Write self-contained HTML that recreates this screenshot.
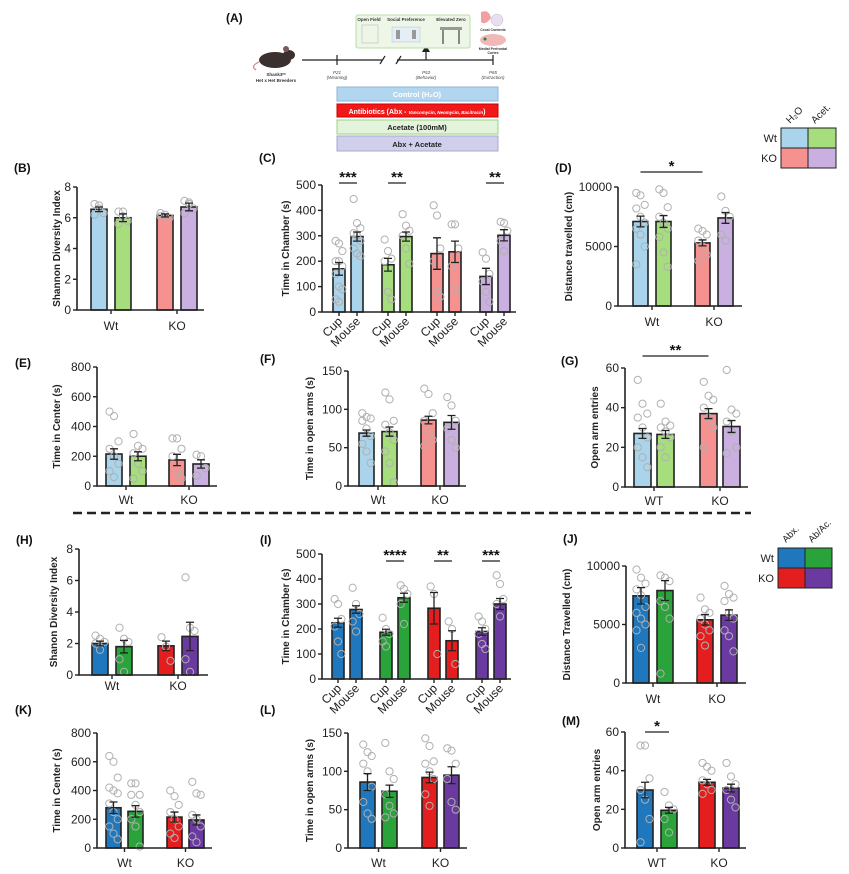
<!DOCTYPE html>
<html><head><meta charset="utf-8">
<style>
html,body{margin:0;padding:0;background:#fff;}
svg{display:block;font-family:"Liberation Sans",Arial,sans-serif;}
.tick{font-size:12px;fill:#222;}
.ytitle{font-size:10px;font-weight:bold;fill:#222;}
.plab{font-size:12px;font-weight:bold;fill:#111;}
.cat{font-size:12px;fill:#222;}
</style></head>
<body>
<svg id="fig" width="849" height="874" viewBox="0 0 849 874" xmlns="http://www.w3.org/2000/svg">
  <g>
    <text class="plab" x="226" y="22">(A)</text>
    <g>
      <ellipse cx="275" cy="60" rx="16" ry="8" fill="#3a3030"/>
      <ellipse cx="289" cy="55" rx="6" ry="5" fill="#3a3030"/>
      <circle cx="286" cy="49" r="3" fill="#7a5a5a"/>
      <path d="M259 62 Q250 66 256 70" stroke="#c88" fill="none" stroke-width="1.2"/>
    </g>
    <text x="276" y="76" font-size="4.5" text-anchor="middle" font-weight="bold" fill="#333">Shank3ᵉˣ</text>
    <text x="276" y="82" font-size="4.5" text-anchor="middle" font-weight="bold" fill="#333">Het x Het Breeders</text>
    <g stroke="#222" stroke-width="1.2">
      <line x1="302" y1="60" x2="382" y2="60"/>
      <line x1="397" y1="60" x2="493" y2="60"/>
      <line x1="337" y1="55" x2="337" y2="65"/>
      <line x1="493" y1="55" x2="493" y2="65"/>
      <line x1="380" y1="64" x2="385" y2="56"/>
      <line x1="396" y1="64" x2="401" y2="56"/>
      <line x1="426" y1="60" x2="426" y2="50"/>
    </g>
    <polygon points="422,52 430,52 426,45" fill="#222"/>
    <text x="337" y="74" font-size="4.5" text-anchor="middle" font-style="italic" fill="#444">P21</text>
    <text x="337" y="79" font-size="4.5" text-anchor="middle" font-style="italic" fill="#444">(Weaning)</text>
    <text x="426" y="74" font-size="4.5" text-anchor="middle" font-style="italic" fill="#444">P53</text>
    <text x="426" y="79" font-size="4.5" text-anchor="middle" font-style="italic" fill="#444">(Behavior)</text>
    <text x="493" y="74" font-size="4.5" text-anchor="middle" font-style="italic" fill="#444">P65</text>
    <text x="493" y="79" font-size="4.5" text-anchor="middle" font-style="italic" fill="#444">(Extraction)</text>
    <rect x="356" y="15" width="114" height="33" rx="2" fill="#eef6e8" stroke="#b8dca8"/>
    <text x="369" y="21" font-size="4.5" font-weight="bold" text-anchor="middle" fill="#333">Open Field</text>
    <text x="406" y="21" font-size="4.5" font-weight="bold" text-anchor="middle" fill="#333">Social Preference</text>
    <text x="451" y="21" font-size="4.5" font-weight="bold" text-anchor="middle" fill="#333">Elevated Zero</text>
    <rect x="362" y="25" width="16" height="18" fill="none" stroke="#bbb" stroke-width="0.6"/>
    <rect x="392" y="27" width="28" height="15" fill="#e4eef4" stroke="#bcd" stroke-width="0.6"/>
    <rect x="396" y="30" width="4" height="9" fill="#999"/><rect x="412" y="30" width="4" height="9" fill="#999"/>
    <rect x="440" y="27" width="22" height="3" fill="#999"/>
    <rect x="442" y="30" width="2" height="14" fill="#888"/><rect x="458" y="30" width="2" height="14" fill="#888"/>
    <path d="M481 12 q8 -3 10 6 q-6 8 -10 4 z" fill="#f0a0a0"/>
    <circle cx="497" cy="20" r="6" fill="#e8e0f0" stroke="#bbb" stroke-width="0.5"/>
    <text x="493" y="31" font-size="3.5" text-anchor="middle" font-weight="bold" fill="#333">Cecal Contents</text>
    <ellipse cx="493" cy="40" rx="13" ry="6" fill="#f2b8b8"/>
    <circle cx="485" cy="39" r="1.5" fill="#1a8a2a"/>
    <text x="493" y="50" font-size="3.5" text-anchor="middle" font-weight="bold" fill="#333">Medial Prefrontal</text>
    <text x="493" y="54" font-size="3.5" text-anchor="middle" font-weight="bold" fill="#333">Cortex</text>
    <rect x="337" y="87" width="161" height="14" fill="#b3d6f0" stroke="#8fb6d6"/>
    <text x="417" y="97" font-size="7.5" text-anchor="middle" fill="#fff" font-weight="bold">Control (H₂O)</text>
    <rect x="337" y="104" width="161" height="13" fill="#f01818" stroke="#c00"/>
    <text x="417" y="114" font-size="7" text-anchor="middle" fill="#fff" font-weight="bold">Antibiotics (Abx - <tspan font-size="4.5" font-style="italic">Vancomycin, Neomycin, Bacitracin</tspan>)</text>
    <rect x="337" y="120" width="161" height="14" fill="#e4f3dc" stroke="#9ccf88"/>
    <text x="417" y="130" font-size="7.5" text-anchor="middle" fill="#222" font-weight="bold">Acetate (100mM)</text>
    <rect x="337" y="136" width="161" height="15" fill="#d0d0ec" stroke="#a8a8cc"/>
    <text x="417" y="147" font-size="7.5" text-anchor="middle" fill="#222" font-weight="bold">Abx + Acetate</text>
  </g>

  <g>
    <rect x="781" y="128" width="27" height="20" fill="#a9d4ec" stroke="#222"/>
    <rect x="808" y="128" width="28" height="20" fill="#a6de7e" stroke="#222"/>
    <rect x="781" y="148" width="27" height="20" fill="#f59290" stroke="#222"/>
    <rect x="808" y="148" width="28" height="20" fill="#c9b0e0" stroke="#222"/>
    <text x="777" y="142" font-size="11" text-anchor="end" fill="#222">Wt</text>
    <text x="777" y="162" font-size="11" text-anchor="end" fill="#222">KO</text>
    <text transform="translate(790,124) rotate(-45)" font-size="10" fill="#222">H₂O</text>
    <text transform="translate(815,124) rotate(-45)" font-size="10" fill="#222">Acet.</text>
  </g>
  <g>
    <rect x="778" y="548" width="27" height="20" fill="#1f78be" stroke="#222"/>
    <rect x="805" y="548" width="27" height="20" fill="#2aa33a" stroke="#222"/>
    <rect x="778" y="568" width="27" height="20" fill="#e41e1e" stroke="#222"/>
    <rect x="805" y="568" width="27" height="20" fill="#6a3aa0" stroke="#222"/>
    <text x="774" y="562" font-size="11" text-anchor="end" fill="#222">Wt</text>
    <text x="774" y="582" font-size="11" text-anchor="end" fill="#222">KO</text>
    <text transform="translate(786,543) rotate(-45)" font-size="9.5" fill="#222">Abx.</text>
    <text transform="translate(812,543) rotate(-45)" font-size="9.5" fill="#222">Ab/Ac.</text>
  </g>
  <line x1="73" y1="513" x2="751" y2="513" stroke="#222" stroke-width="2.5" stroke-dasharray="9,5"/>
  <g id="charts"></g>
</svg>
<script>
const groupCats = ['Wt', 'KO'];
const groupCatsM = ['WT', 'KO'];
const pairCats = ['Cup', 'Mouse'];

const bVals = [6.55, 6.0, 6.15, 6.7];
const bSem = [0.15, 0.25, 0.1, 0.25];
const bDots = [[6.9,6.6,6.3,6.2,6.8],[6.4,6.4,5.8,5.6,6.1],[6.3,6.2,6.0,6.1],[7.1,7.0,6.6,6.3,6.9]];

const cVals = [170, 297, 186, 297, 230, 237, 140, 302];
const cSem = [25, 18, 25, 18, 62, 42, 32, 22];
const cDots = [[280,270,240,200,200,180,150,100,90,50,40],[445,350,330,310,300,280,250,230,220],[285,240,210,200,80,50],[385,340,320,300,250,190],[420,380,250,200,80,60],[345,345,250,180,90],[235,210,150,120,80,40],[355,350,320,280,240]];

const dVals = [7100, 7100, 5300, 7400];
const dSem = [450, 500, 250, 450];
const dDots = [[9500,9300,8500,8200,7500,7000,6500,6000,5000,3500],[9800,9500,8300,7500,7000,6500,5800,4500,3300],[6500,6300,6000,5500,5000,4300,3800],[9200,8000,7500,6000,5500]];

const eVals = [215, 200, 175, 148];
const eSem = [35, 30, 38, 28];
const eDots = [[500,470,300,250,200,150,100,60],[350,270,250,220,150,100,50],[320,320,250,200,100,50],[210,200,120,70]];

const fVals = [69, 71, 86, 83];
const fSem = [4, 6, 5, 9];
const fDots = [[95,90,88,85,75,65,55,45,30],[122,113,85,80,70,60,45,30,5],[127,120,95,85,70,60,52],[116,105,85,75,60,50]];

const gVals = [27, 26.5, 37, 30.5];
const gSem = [2.5, 2, 2.5, 3];
const gDots = [[54,42,37,35,30,25,20,15,10],[42,33,31,30,28,25,20,15],[53,46,44,40,35,30,20],[59,39,37,33,28,20,17]];

const hVals = [2.0, 1.8, 1.85, 2.45];
const hSem = [0.15, 0.4, 0.3, 0.9];
const hDots = [[2.5,2.3,2.1,2.0,1.6],[3.0,2.3,2.1,1.0,0.2],[2.4,1.8,0.9],[6.2,3.0,2.8,1.0,0.2]];

const iVals = [225, 278, 187, 325, 283, 153, 190, 300];
const iSem = [18, 15, 12, 18, 63, 40, 15, 22];
const iDots = [[320,300,240,210,150,100],[365,300,260,230,190],[245,200,180,150,130],[375,360,340,300,220],[370,340,100],[230,200,60],[250,230,200,180,140,120],[415,380,320,300,250]];

const jVals = [7450, 7900, 5400, 5800];
const jSem = [700, 850, 450, 450];
const jDots = [[9700,9000,8500,8000,7500,6500,6000,5500,5000,4500,3000],[9200,9000,8700,7000,6500,5500,800],[7300,6300,6000,5500,5000,4500,4000,3200],[8300,7600,7300,7000,6000,5500,4500,4000,2700]];

const kVals = [280, 255, 215, 195];
const kSem = [40, 40, 35, 35];
const kDots = [[640,600,490,420,400,380,310,250,200,150,100,60],[450,450,370,370,300,250,200,150,10],[400,360,300,250,200,150,100,70],[460,380,370,230,200,150,80,40]];

const lVals = [86, 74, 92, 95];
const lSem = [11, 8, 7, 11];
const lDots = [[135,125,120,110,100,80,60,45,38],[137,100,90,70,55,45,40],[143,133,113,110,100,90,70,55],[130,127,110,90,60,50]];

const mVals = [30, 19.5, 34, 31];
const mSem = [4, 1.5, 1.5, 2];
const mDots = [[53,53,36,30,25,15,3],[29,22,20,15,8],[44,42,40,35,33,30,28],[44,37,33,30,25,21]];

const ticks8 = [0, 2, 4, 6, 8];
const ticks500 = [0, 100, 200, 300, 400, 500];
const ticks10000 = [0, 5000, 10000];
const ticks800 = [0, 200, 400, 600, 800];
const ticks150 = [0, 50, 100, 150];
const ticks60 = [0, 20, 40, 60];

const pastel = ['#a9d4ec', '#a6de7e', '#f59290', '#c9b0e0'];
const vivid = ['#1f78be', '#2aa33a', '#e41e1e', '#6a3aa0'];

const NS = 'http://www.w3.org/2000/svg';
const root = document.getElementById('charts');
function mk(tag, attrs, parent) {
  const e = document.createElementNS(NS, tag);
  for (const k in attrs) e.setAttribute(k, attrs[k]);
  parent.appendChild(e);
  return e;
}

function panel(p) {
  const g = mk('g', {}, root);
  
  
  const yMax = p.ticks[p.ticks.length - 1];
  const ys = v => p.yBot - (v / yMax) * (p.yBot - p.yTop);
  const n = p.vals.length;
  const xs = i => p.ax + p.off + (i % 2) * p.step + Math.floor(i / 2) * p.gstep;
  const col = i => p.colors[n === 8 ? Math.floor(i / 2) : i];

  const pl = mk('text', {x: p.lx, y: p.ly, class: 'plab'}, g);
  pl.textContent = '(' + p.id.toUpperCase() + ')';
  
  

  for (let i = 0; i < n; i++) {
    const x = xs(i), y = ys(p.vals[i]);
    const b = mk('rect', {x: x, y: y, width: p.w, height: p.yBot - y, fill: col(i), stroke: '#222', 'stroke-width': 1.6}, g);
    
    
  }
  for (let i = 0; i < n; i++) {
    const cx = xs(i) + p.w / 2;
    const d = p.dots[i];
    for (let j = 0; j < d.length; j++) {
      const jitter = ((j % 3) - 1) * (p.w * 0.28);
      const c = mk('circle', {cx: cx + jitter, cy: ys(d[j]), r: 3.6, fill: 'none', stroke: '#b0b0b0', 'stroke-width': 1}, g);
      
      
    }
  }
  for (let i = 0; i < n; i++) {
    const cx = xs(i) + p.w / 2;
    const y1 = ys(p.vals[i] + p.sem[i]), y0 = ys(p.vals[i] - p.sem[i]);
    const e = mk('path', {d: `M${cx} ${y0}V${y1}M${cx - 4} ${y1}H${cx + 4}M${cx - 4} ${y0}H${cx + 4}`, stroke: '#222', 'stroke-width': 1.3, fill: 'none'}, g);
    
    
  }
  const ax = mk('path', {d: `M${p.ax} ${p.yTop}V${p.yBot}H${p.xEnd}`, stroke: '#222', 'stroke-width': 1.6, fill: 'none'}, g);
  
  
  p.ticks.forEach(t => {
    mk('line', {x1: p.ax - 4, x2: p.ax, y1: ys(t), y2: ys(t), stroke: '#222', 'stroke-width': 1.4}, g);
    const tl = mk('text', {x: p.ax - 6, y: ys(t) + 4, class: 'tick', 'text-anchor': 'end'}, g);
    tl.textContent = t;
    
    
  });
  if (n === 8) {
    for (let i = 0; i < n; i++) {
      const cx = xs(i) + p.w / 2;
      mk('line', {x1: cx, x2: cx, y1: p.yBot, y2: p.yBot + 4, stroke: '#222', 'stroke-width': 1.4}, g);
      const t = mk('text', {class: 'cat', 'text-anchor': 'end', transform: `translate(${cx + 4},${p.yBot + 10}) rotate(-45)`}, g);
      t.textContent = pairCats[i % 2];
      
      
    }
  } else {
    for (let k = 0; k < 2; k++) {
      const cx = (xs(2 * k) + xs(2 * k + 1) + p.w) / 2;
      mk('line', {x1: cx, x2: cx, y1: p.yBot, y2: p.yBot + 4, stroke: '#222', 'stroke-width': 1.4}, g);
      const t = mk('text', {x: cx, y: p.catY, class: 'cat', 'text-anchor': 'middle'}, g);
      t.textContent = p.cats[k];
      
      
    }
  }
  const yt = mk('text', {class: 'ytitle', 'text-anchor': 'middle', transform: `translate(${p.tx},${(p.yTop + p.yBot) / 2}) rotate(-90)`}, g);
  yt.textContent = p.title;
  
  
  (p.sig || []).forEach(s => {
    const x1 = xs(s.a) + p.w / 2, x2 = xs(s.b) + p.w / 2;
    mk('line', {x1: x1, x2: x2, y1: s.y, y2: s.y, stroke: '#222', 'stroke-width': 1.2}, g);
    const st = mk('text', {x: (x1 + x2) / 2, y: s.y - 1, 'text-anchor': 'middle', 'font-size': 15, 'font-weight': 'bold', fill: '#111'}, g);
    st.textContent = s.t;
    
    
  });
}

panel({id:'b', vals:bVals, sem:bSem, dots:bDots, colors:pastel, ticks:ticks8, cats:groupCats, ax:77, yTop:187, yBot:310, xEnd:204, off:14, w:16, step:24, gstep:66, catY:330, tx:60, title:'Shannon Diversity Index', lx:14, ly:172});
panel({id:'c', vals:cVals, sem:cSem, dots:cDots, colors:pastel, ticks:ticks500, ax:322, yTop:185, yBot:312, xEnd:516, off:11, w:12, step:18, gstep:49, tx:289, title:'Time in Chamber (s)', lx:259, ly:162,
  sig:[{a:0,b:1,y:183,t:'***'},{a:2,b:3,y:183,t:'**'},{a:6,b:7,y:183,t:'**'}]});
panel({id:'d', vals:dVals, sem:dSem, dots:dDots, colors:pastel, ticks:ticks10000, cats:groupCats, ax:618, yTop:187, yBot:306, xEnd:742, off:15, w:15, step:23, gstep:62, catY:326, tx:572, title:'Distance travelled (cm)', lx:555, ly:172,
  sig:[{a:0,b:2,y:172,t:'*'}]});
panel({id:'e', vals:eVals, sem:eSem, dots:eDots, colors:pastel, ticks:ticks800, cats:groupCats, ax:97, yTop:367, yBot:486, xEnd:217, off:9, w:16, step:24, gstep:63, catY:504, tx:60, title:'Time in Center (s)', lx:15, ly:367});
panel({id:'f', vals:fVals, sem:fSem, dots:fDots, colors:pastel, ticks:ticks150, cats:groupCats, ax:348, yTop:371, yBot:486, xEnd:466, off:11, w:15, step:23, gstep:62, catY:504, tx:313, title:'Time in open arms (s)', lx:260, ly:363});
panel({id:'g', vals:gVals, sem:gSem, dots:gDots, colors:pastel, ticks:ticks60, cats:groupCatsM, ax:625, yTop:368, yBot:487, xEnd:748, off:9, w:17, step:23, gstep:66, catY:505, tx:598, title:'Open arm entries', lx:561, ly:365,
  sig:[{a:0,b:2,y:356,t:'**'}]});
panel({id:'h', vals:hVals, sem:hSem, dots:hDots, colors:vivid, ticks:ticks8, cats:groupCats, ax:79, yTop:549, yBot:675, xEnd:208, off:13, w:16, step:24, gstep:66, catY:690, tx:57, title:'Shanon Diversity Index', lx:16, ly:544});
panel({id:'i', vals:iVals, sem:iSem, dots:iDots, colors:vivid, ticks:ticks500, ax:322, yTop:554, yBot:679, xEnd:511, off:10, w:12, step:18, gstep:48, tx:289, title:'Time in Chamber (s)', lx:260, ly:544,
  sig:[{a:2,b:3,y:561,t:'****'},{a:4,b:5,y:561,t:'**'},{a:6,b:7,y:561,t:'***'}]});
panel({id:'j', vals:jVals, sem:jSem, dots:jDots, colors:vivid, ticks:ticks10000, cats:groupCats, ax:626, yTop:566, yBot:683, xEnd:746, off:7, w:16, step:24, gstep:64, catY:703, tx:570, title:'Distance Travelled (cm)', lx:563, ly:543});
panel({id:'k', vals:kVals, sem:kSem, dots:kDots, colors:vivid, ticks:ticks800, cats:groupCats, ax:97, yTop:733, yBot:848, xEnd:212, off:9, w:15, step:22, gstep:61, catY:867, tx:60, title:'Time in Center (s)', lx:15, ly:714});
panel({id:'l', vals:lVals, sem:lSem, dots:lDots, colors:vivid, ticks:ticks150, cats:groupCats, ax:348, yTop:733, yBot:848, xEnd:467, off:12, w:15, step:22, gstep:62, catY:867, tx:313, title:'Time in open arms (s)', lx:260, ly:714});
panel({id:'m', vals:mVals, sem:mSem, dots:mDots, colors:vivid, ticks:ticks60, cats:groupCatsM, ax:625, yTop:732, yBot:848, xEnd:746, off:12, w:16, step:24, gstep:62, catY:867, tx:600, title:'Open arm entries', lx:562, ly:725,
  sig:[{a:0,b:1,y:732,t:'*'}]});
</script>
</body></html>
